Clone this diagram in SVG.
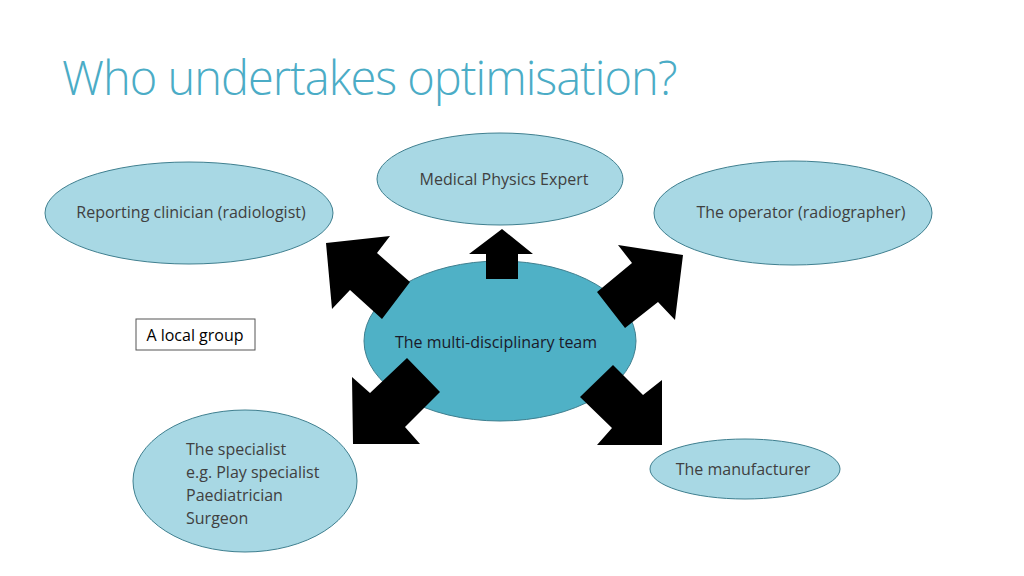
<svg xmlns="http://www.w3.org/2000/svg" width="1024" height="576" viewBox="0 0 1024 576">
<style>
.n{fill:#a8d8e4;stroke:#3f7f8f;stroke-width:1}
.t{font-family:"Open Sans","Liberation Sans",sans-serif;font-size:16px;fill:#404040}
.a{fill:#000}
</style>
<rect width="1024" height="576" fill="#fff"/>
<text x="62" y="95" font-family="'Open Sans','Liberation Sans',sans-serif" font-weight="300" font-size="47" fill="#4bacc6" letter-spacing="-1">Who undertakes optimisation?</text>
<g id="center"><ellipse cx="500" cy="341" rx="136" ry="80" fill="#4fb1c6" stroke="#3f7f8f"/><text class="t" x="496" y="348" text-anchor="middle" font-size="18" style="fill:#1a1a2a">The multi-disciplinary team</text></g>
<g id="connectors">
<polygon class="a" points="502,229 533,254 518,254 518,279 486,279 486,254 469,254"/>
<polygon class="a" points="326,243 390,236 377,253 410,282 382,319 350,290 332,309"/>
<polygon class="a" points="683,255 675,320 658,302 625,328 597,292 632,263 618,245"/>
<polygon class="a" points="353,444 352,377 370,393 407,358 440,392 405,427 420,444"/>
<polygon class="a" points="662,445 662,380 643,395 613,365 580,397 612,428 597,445"/>
</g>
<g id="mpe"><ellipse class="n" cx="500" cy="179" rx="123" ry="46"/><text class="t" x="504" y="185" text-anchor="middle">Medical Physics Expert</text></g>
<g id="clinician"><ellipse class="n" cx="189" cy="213" rx="144" ry="51"/><text class="t" x="191" y="218" text-anchor="middle">Reporting clinician (radiologist)</text></g>
<g id="operator"><ellipse class="n" cx="793" cy="213" rx="139" ry="52"/><text class="t" x="801" y="218" text-anchor="middle">The operator (radiographer)</text></g>
<g id="specialist"><ellipse class="n" cx="245" cy="481" rx="112" ry="71"/><text class="t" x="186" y="455">The specialist</text><text class="t" x="186" y="478">e.g. Play specialist</text><text class="t" x="186" y="501">Paediatrician</text><text class="t" x="186" y="524">Surgeon</text></g>
<g id="manufacturer"><ellipse class="n" cx="745" cy="469" rx="95" ry="30"/><text class="t" x="743" y="475" text-anchor="middle">The manufacturer</text></g>
<g id="local"><rect x="136" y="319" width="119" height="31" fill="#fff" stroke="#555"/><text class="t" x="195" y="341" text-anchor="middle" style="fill:#000">A local group</text></g>
</svg>
